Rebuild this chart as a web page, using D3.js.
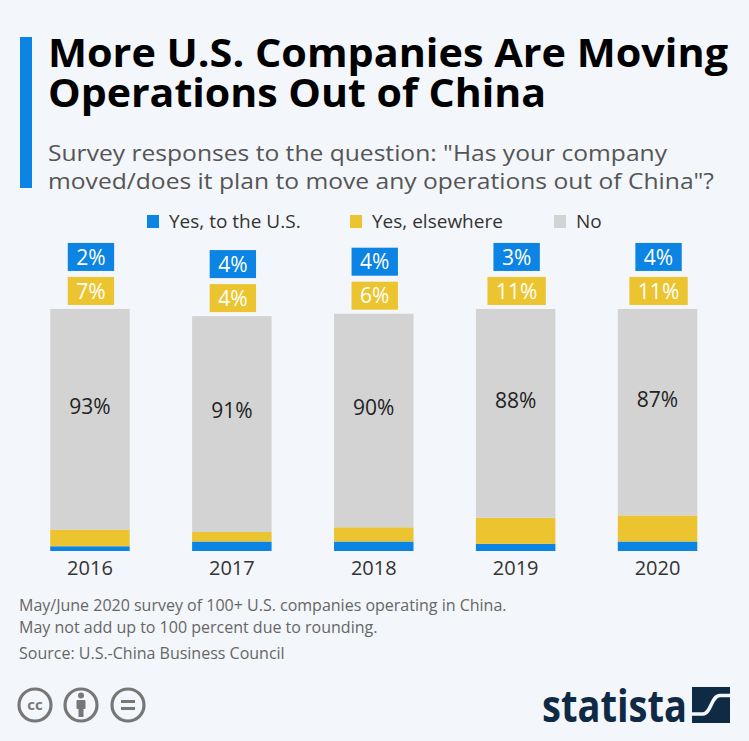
<!DOCTYPE html>
<html>
<head>
<meta charset="utf-8">
<script src="https://cdn.jsdelivr.net/npm/d3@7"></script>
<style>
  body { margin:0; background:#f3f6fa; }
  svg { display:block; font-family:"Open Sans", sans-serif; }
</style>
</head>
<body>
<svg id="chart"></svg>
<script>
// chart data
var years = ["2016","2017","2018","2019","2020"];
var yesUS = [2,4,4,3,4];
var yesElsewhere = [7,4,6,11,11];
var noMove = [93,91,90,88,87];

var seriesKeys = ["us","elsewhere","no"];
var seriesNames = ["Yes, to the U.S.","Yes, elsewhere","No"];

var titleLines = ["More U.S. Companies Are Moving","Operations Out of China"];
var subtitleLines = ["Survey responses to the question: \"Has your company",
                     "moved/does it plan to move any operations out of China\"?"];
var noteLines = ["May/June 2020 survey of 100+ U.S. companies operating in China.",
                 "May not add up to 100 percent due to rounding.",
                 "Source: U.S.-China Business Council"];

var colors = {us:"#0b84e4", elsewhere:"#ebc42f", no:"#d3d3d3"};

var width = 749, height = 741;

var svg = d3.select("#chart")
    .attr("width",width)
    .attr("height",height);

svg.append("rect")
    .attr("width",width)
    .attr("height",height)
    .attr("fill","#f3f6fa");

// title block
svg.append("rect")
    .attr("x",20).attr("y",37)
    .attr("width",12).attr("height",151)
    .attr("fill","#0b84e4");

var titleWidths = [680, 498];
svg.selectAll("text.title")
    .data(titleLines)
    .enter()
    .append("text")
    .attr("class","title")
    .attr("x",48)
    .attr("y",function(d,i){ return 67 + i*40; })
    .attr("font-size",40)
    .attr("font-weight",700)
    .attr("fill","#000")
    .attr("textLength",function(d,i){ return titleWidths[i]; })
    .attr("lengthAdjust","spacingAndGlyphs")
    .text(function(d){ return d; });

var subWidths = [619, 666];
svg.selectAll("text.sub")
    .data(subtitleLines)
    .enter()
    .append("text")
    .attr("class","sub")
    .attr("x",48)
    .attr("y",function(d,i){ return 161 + i*28; })
    .attr("font-size",21)
    .attr("fill","#555")
    .attr("textLength",function(d,i){ return subWidths[i]; })
    .attr("lengthAdjust","spacingAndGlyphs")
    .text(function(d){ return d; });

// legend
var legendX = [147, 350, 554];
var legend = svg.selectAll("g.legend")
    .data(seriesKeys)
    .enter()
    .append("g")
    .attr("class","legend")
    .attr("transform",function(d,i){ return "translate("+legendX[i]+",215)"; });

legend.append("rect")
    .attr("width",12).attr("height",13)
    .attr("fill",function(d){ return colors[d]; });

legend.append("text")
    .attr("x",22)
    .attr("y",13)
    .attr("font-size",19)
    .attr("fill","#333")
    .text(function(d,i){ return seriesNames[i]; });

// data table for the stack
var table = years.map(function(y,i){
    return {year:y, us:yesUS[i], elsewhere:yesElsewhere[i], no:noMove[i]};
});

var stacked = d3.stack().keys(seriesKeys)(table);

var x = d3.scaleBand()
    .domain(years)
    .range([19, 19 + 5*141.9])
    .paddingInner(0.44)
    .paddingOuter(0.22);

var y = d3.scaleLinear()
    .domain([0,100])
    .range([551, 551 - 237.3]);

var layers = svg.selectAll("g.layer")
    .data(stacked)
    .enter()
    .append("g")
    .attr("class","layer")
    .attr("fill",function(d){ return colors[d.key]; });

layers.selectAll("rect")
    .data(function(d){ return d; })
    .enter()
    .append("rect")
    .attr("x",function(d){ return x(d.data.year); })
    .attr("y",function(d){ return y(d[1]); })
    .attr("width",x.bandwidth())
    .attr("height",function(d){ return y(d[0]) - y(d[1]); });

// "No" labels inside the grey part
var noLayer = stacked[2];
svg.selectAll("text.nolabel")
    .data(noLayer)
    .enter()
    .append("text")
    .attr("class","nolabel")
    .attr("x",function(d){ return x(d.data.year) + x.bandwidth()/2; })
    .attr("y",function(d){ return (y(d[0]) + y(d[1]))/2 - 13; })
    .attr("dy","0.35em")
    .attr("text-anchor","middle")
    .attr("font-size",21)
    .attr("fill","#222")
    .text(function(d){ return d.data.no + "%"; });

// boxed labels above each bar
var boxH = 28;
var drawBox = function(key, offset)
{
    var g = svg.selectAll("g.box-"+key)
        .data(noLayer)
        .enter()
        .append("g")
        .attr("class","box-"+key)
        .attr("transform",function(d){
            var cx = x(d.data.year) + x.bandwidth()/2 + 1;
            var bottom = y(d[1]) - 4 - offset;
            return "translate("+cx+","+(bottom - boxH)+")";
        });

    var rects = g.append("rect")
        .attr("y",0)
        .attr("height",boxH)
        .attr("fill",colors[key]);

    var texts = g.append("text")
        .attr("x",0)
        .attr("y",boxH/2)
        .attr("dy","0.36em")
        .attr("text-anchor","middle")
        .attr("font-size",21)
        .attr("fill","#fff")
        .text(function(d){ return d.data[key] + "%"; });

    texts.each(function(d,i){
        var w = this.getComputedTextLength() + 17;
        d3.select(rects.nodes()[i])
            .attr("x",-w/2)
            .attr("width",w);
    });
}

drawBox("elsewhere", 0);
drawBox("us", boxH + 6);

// year axis
svg.append("g")
    .attr("transform","translate(0,551)")
    .call(d3.axisBottom(x).tickSize(0).tickPadding(10))
    .call(function(g){ g.select(".domain").remove(); })
    .selectAll("text")
    .attr("font-size",20)
    .attr("font-family","Open Sans, sans-serif")
    .attr("fill","#333");

// notes
svg.selectAll("text.note")
    .data(noteLines)
    .enter()
    .append("text")
    .attr("class","note")
    .attr("x",19)
    .attr("y",function(d,i){ return [611,633,659][i]; })
    .attr("font-size",16)
    .attr("fill","#666")
    .text(function(d){ return d; });

// cc icons
var icons = svg.append("g")
    .attr("stroke","#777")
    .attr("fill","none")
    .attr("stroke-width",3.2);

[35,81,128].forEach(function(cx){
    icons.append("circle")
        .attr("cx",cx).attr("cy",705).attr("r",16);
});

svg.append("text")
    .attr("x",35).attr("y",705)
    .attr("dy","0.35em")
    .attr("text-anchor","middle")
    .attr("font-size",15)
    .attr("font-weight",700)
    .attr("fill","#777")
    .text("cc");

// person
svg.append("circle")
    .attr("cx",81).attr("cy",695.5).attr("r",3).attr("fill","#777");
svg.append("rect")
    .attr("x",76.5).attr("y",700).attr("width",9).attr("height",9).attr("rx",1).attr("fill","#777");
svg.append("rect")
    .attr("x",78.5).attr("y",708).attr("width",5).attr("height",9).attr("fill","#777");

// equals
svg.append("rect").attr("x",121).attr("y",700).attr("width",14).attr("height",3).attr("fill","#777");
svg.append("rect").attr("x",121).attr("y",707).attr("width",14).attr("height",3).attr("fill","#777");

// statista logo
svg.append("text")
    .attr("x",542)
    .attr("y",722)
    .attr("font-size",44)
    .attr("font-weight",700)
    .attr("fill","#0f2a44")
    .attr("textLength",145)
    .attr("lengthAdjust","spacingAndGlyphs")
    .text("statista");

var logo = svg.append("g").attr("transform","translate(692,687)");
logo.append("rect")
    .attr("width",38).attr("height",36)
    .attr("fill","#0f2a44");
logo.append("path")
    .attr("d","M0,27 L11,27 C19,27 19,8.5 28,8.5 L38,8.5")
    .attr("fill","none")
    .attr("stroke","#f3f6fa")
    .attr("stroke-width",3.5);
</script>
</body>
</html>
